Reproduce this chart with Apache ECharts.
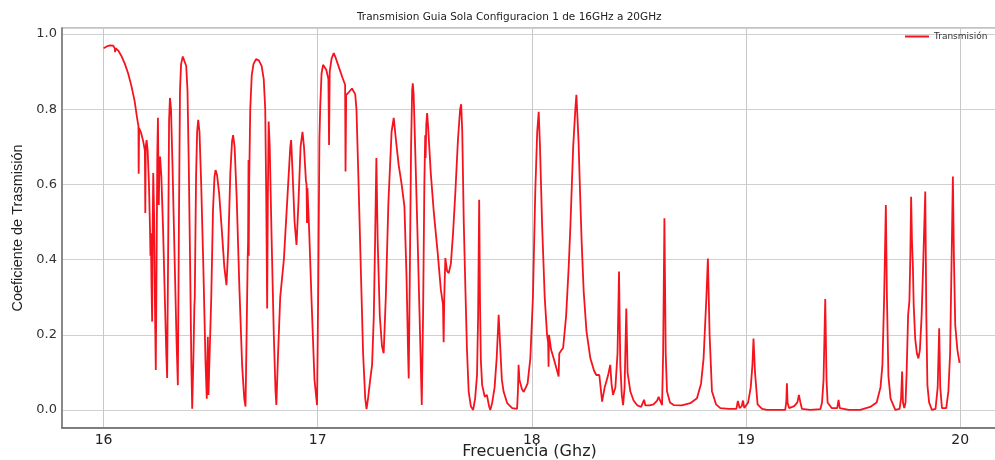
<!DOCTYPE html>
<html>
<head>
<meta charset="utf-8">
<script src="https://cdn.jsdelivr.net/npm/echarts@6/dist/echarts.min.js"></script>
<style>
html,body{margin:0;padding:0;background:#fff;}
#chart{width:995px;height:460px;}
</style>
</head>
<body>
<div id="chart"></div>
<script>
const titleText = 'Transmision Guia Sola Configuracion 1 de 16GHz a 20GHz';
const xName = 'Frecuencia (Ghz)';
const yName = 'Coeficiente de Trasmisión';
const seriesName = 'Transmisión';

const freq = [
16.000,16.015,16.030,16.045,16.052,16.054,16.057,16.070,16.085,16.100,16.115,16.130,16.145,16.157,16.163,16.164,16.166,16.175,16.185,16.193,
16.195,16.197,16.201,16.206,16.212,16.217,16.219,16.221,16.224,16.227,16.229,16.232,16.236,16.240,16.244,16.248,16.251,16.254,16.256,16.258,
16.261,16.264,16.270,16.278,16.287,16.293,16.297,16.302,16.306,16.310,16.315,16.322,16.332,16.341,16.347,16.352,16.357,16.362,16.370,16.378,
16.386,16.392,16.398,16.404,16.410,16.414,16.420,16.424,16.426,16.432,16.437,16.442,16.448,16.456,16.466,16.476,16.482,16.485,16.487,16.490,
16.496,16.503,16.511,16.518,16.523,16.530,16.540,16.552,16.564,16.574,16.582,16.592,16.600,16.605,16.612,16.622,16.634,16.647,16.657,16.663,
16.668,16.673,16.675,16.677,16.678,16.680,16.685,16.692,16.700,16.712,16.725,16.738,16.748,16.755,16.760,16.764,16.767,16.771,16.776,16.785,
16.795,16.803,16.807,16.815,16.825,16.842,16.860,16.872,16.876,16.882,16.892,16.901,16.910,16.920,16.929,16.936,16.945,16.948,16.950,16.952,
16.960,16.972,16.985,16.997,17.003,17.008,17.012,17.018,17.025,17.033,17.040,17.050,17.053,17.056,17.065,17.075,17.085,17.100,17.115,17.128,
17.130,17.133,17.145,17.160,17.168,17.175,17.181,17.190,17.200,17.212,17.222,17.228,17.235,17.245,17.254,17.262,17.268,17.274,17.280,17.290,
17.300,17.308,17.318,17.330,17.345,17.355,17.365,17.378,17.392,17.405,17.415,17.422,17.425,17.430,17.436,17.441,17.444,17.448,17.455,17.465,
17.478,17.486,17.492,17.498,17.502,17.504,17.507,17.511,17.516,17.528,17.542,17.560,17.575,17.585,17.588,17.591,17.596,17.604,17.612,17.622,
17.632,17.643,17.655,17.665,17.670,17.675,17.682,17.690,17.697,17.705,17.715,17.726,17.735,17.744,17.749,17.754,17.758,17.762,17.768,17.780,
17.790,17.793,17.800,17.806,17.815,17.826,17.836,17.845,17.852,17.860,17.868,17.885,17.908,17.931,17.935,17.938,17.942,17.954,17.962,17.970,
17.980,17.993,18.005,18.016,18.025,18.032,18.038,18.048,18.060,18.071,18.076,18.078,18.080,18.090,18.102,18.115,18.125,18.128,18.137,18.146,
18.160,18.172,18.180,18.193,18.203,18.208,18.212,18.218,18.225,18.233,18.242,18.255,18.273,18.290,18.301,18.315,18.322,18.328,18.340,18.355,
18.366,18.372,18.379,18.390,18.400,18.407,18.413,18.420,18.426,18.433,18.441,18.447,18.460,18.475,18.491,18.510,18.519,18.524,18.530,18.550,
18.568,18.585,18.592,18.600,18.608,18.613,18.619,18.625,18.631,18.645,18.662,18.700,18.740,18.771,18.790,18.802,18.815,18.822,18.830,18.841,
18.860,18.880,18.920,18.955,18.962,18.970,18.980,18.986,18.992,19.010,19.022,19.030,19.035,19.042,19.054,19.075,19.098,19.140,19.183,19.188,
19.191,19.194,19.201,19.225,19.240,19.247,19.254,19.261,19.300,19.347,19.355,19.362,19.370,19.376,19.381,19.400,19.426,19.432,19.438,19.480,
19.533,19.580,19.610,19.628,19.637,19.645,19.653,19.658,19.665,19.675,19.697,19.717,19.724,19.729,19.733,19.739,19.745,19.750,19.757,19.763,
19.767,19.771,19.775,19.779,19.783,19.790,19.798,19.805,19.812,19.820,19.828,19.837,19.842,19.847,19.855,19.868,19.885,19.895,19.902,19.907,
19.915,19.935,19.945,19.953,19.960,19.966,19.971,19.977,19.987,19.997
];

const trans = [
0.962,0.967,0.970,0.969,0.963,0.952,0.962,0.955,0.940,0.920,0.895,0.862,0.822,0.775,0.755,0.628,0.750,0.738,0.715,0.690,
0.524,0.700,0.718,0.690,0.600,0.480,0.410,0.470,0.330,0.235,0.450,0.630,0.520,0.280,0.106,0.420,0.680,0.777,0.650,0.545,
0.650,0.674,0.620,0.480,0.280,0.150,0.085,0.450,0.770,0.830,0.800,0.650,0.400,0.180,0.066,0.500,0.850,0.920,0.940,0.940,
0.915,0.850,0.650,0.400,0.120,0.003,0.150,0.275,0.300,0.620,0.740,0.772,0.740,0.600,0.380,0.130,0.030,0.027,0.195,0.040,
0.045,0.300,0.530,0.620,0.638,0.625,0.575,0.480,0.380,0.332,0.430,0.630,0.715,0.731,0.700,0.560,0.330,0.120,0.030,0.009,
0.200,0.400,0.450,0.665,0.410,0.600,0.800,0.890,0.920,0.933,0.930,0.915,0.880,0.800,0.550,0.270,0.550,0.767,0.700,0.450,
0.200,0.050,0.013,0.150,0.300,0.400,0.580,0.700,0.718,0.640,0.500,0.439,0.550,0.700,0.740,0.700,0.610,0.600,0.497,0.590,
0.480,0.280,0.080,0.013,0.350,0.720,0.810,0.895,0.918,0.915,0.905,0.880,0.705,0.900,0.935,0.949,0.935,0.910,0.885,0.865,
0.634,0.838,0.845,0.855,0.855,0.840,0.800,0.620,0.404,0.150,0.030,0.002,0.030,0.080,0.120,0.250,0.450,0.670,0.450,0.250,
0.170,0.151,0.300,0.550,0.740,0.777,0.720,0.652,0.600,0.541,0.350,0.150,0.084,0.350,0.700,0.850,0.869,0.840,0.700,0.490,
0.200,0.013,0.250,0.600,0.731,0.670,0.760,0.790,0.750,0.630,0.527,0.420,0.320,0.280,0.180,0.300,0.404,0.370,0.364,0.390,
0.470,0.581,0.720,0.800,0.813,0.740,0.500,0.315,0.160,0.049,0.010,0.000,0.030,0.093,0.250,0.559,0.280,0.130,0.066,0.035,
0.040,0.035,0.010,0.000,0.020,0.060,0.140,0.253,0.170,0.080,0.049,0.018,0.005,0.003,0.050,0.120,0.080,0.055,0.048,0.044,
0.070,0.138,0.300,0.581,0.740,0.793,0.700,0.490,0.300,0.200,0.180,0.115,0.200,0.160,0.137,0.110,0.089,0.150,0.158,0.165,
0.250,0.380,0.490,0.700,0.800,0.838,0.790,0.714,0.580,0.440,0.315,0.210,0.138,0.105,0.093,0.093,0.090,0.022,0.060,0.090,
0.120,0.070,0.040,0.060,0.150,0.368,0.120,0.040,0.013,0.060,0.270,0.100,0.049,0.025,0.013,0.008,0.005,0.027,0.012,0.012,
0.015,0.025,0.035,0.030,0.013,0.150,0.510,0.150,0.050,0.020,0.013,0.012,0.018,0.031,0.070,0.138,0.300,0.403,0.200,0.050,
0.015,0.005,0.003,0.003,0.024,0.005,0.010,0.025,0.005,0.020,0.060,0.120,0.190,0.100,0.015,0.003,0.000,0.000,0.000,0.020,
0.071,0.020,0.005,0.010,0.020,0.040,0.020,0.003,0.000,0.002,0.020,0.080,0.295,0.080,0.020,0.005,0.005,0.027,0.005,0.000,
0.000,0.008,0.020,0.060,0.120,0.300,0.545,0.300,0.090,0.030,0.000,0.003,0.030,0.102,0.020,0.005,0.020,0.100,0.253,0.290,
0.400,0.567,0.450,0.386,0.280,0.190,0.150,0.137,0.160,0.250,0.400,0.581,0.250,0.066,0.020,0.000,0.003,0.060,0.217,0.060,
0.005,0.005,0.050,0.150,0.400,0.621,0.400,0.226,0.160,0.125
];

const data = freq.map((f, i) => [f, trans[i]]);

const chart = echarts.init(document.getElementById('chart'), null, {renderer: 'canvas'});
chart.setOption({
  animation: false,
  backgroundColor: '#ffffff',
  title: {
    text: titleText,
    left: 357, top: 12, padding: 0,
    textStyle: {fontFamily: 'DejaVu Sans', fontSize: 10.5, fontWeight: 'normal', color: '#222'}
  },
  legend: {
    data: [seriesName],
    left: 905, top: 32, padding: 0,
    icon: 'rect', itemWidth: 24, itemHeight: 2, itemGap: 5,
    textStyle: {fontFamily: 'DejaVu Sans', fontSize: 9, color: '#333'}
  },
  grid: {
    left: 62, right: -2, top: 28, bottom: 32,
    outerBoundsMode: 'none', containLabel: false,
    show: true, borderColor: '#888', borderWidth: 1.2, backgroundColor: 'transparent'
  },
  xAxis: {
    type: 'value',
    min: 15.806, max: 20.172,
    name: xName, nameLocation: 'middle', nameGap: 16, nameMoveOverlap: false,
    nameTextStyle: {fontFamily: 'DejaVu Sans', fontSize: 16, color: '#222', verticalAlign: 'top'},
    axisLine: {show: true, onZero: false, lineStyle: {color: '#666', width: 1.5}},
    axisTick: {show: false},
    axisLabel: {showMinLabel: false, showMaxLabel: false, margin: 5,
      fontFamily: 'DejaVu Sans', fontSize: 14, color: '#222'},
    splitLine: {show: true, lineStyle: {color: '#c8c8c8', width: 1}}
  },
  yAxis: {
    type: 'value',
    min: -0.048, max: 1.016,
    name: yName, nameLocation: 'middle', nameGap: 37, nameRotate: 90, nameMoveOverlap: false,
    nameTextStyle: {fontFamily: 'Liberation Sans', fontSize: 14.5, color: '#222'},
    axisLine: {show: true, onZero: false, lineStyle: {color: '#777', width: 1.5}},
    axisTick: {show: false},
    axisLabel: {showMinLabel: false, showMaxLabel: false, margin: 5,
      fontFamily: 'DejaVu Sans', fontSize: 13, color: '#333',
      formatter: v => v.toFixed(1)},
    splitLine: {show: true, lineStyle: {color: '#d0d0d0', width: 1}}
  },
  series: [{
    name: seriesName,
    type: 'line',
    data: data,
    showSymbol: false,
    symbol: 'none',
    lineStyle: {color: '#f5141e', width: 1.8},
    itemStyle: {color: '#f5141e'}
  }]
});
</script>
</body>
</html>
